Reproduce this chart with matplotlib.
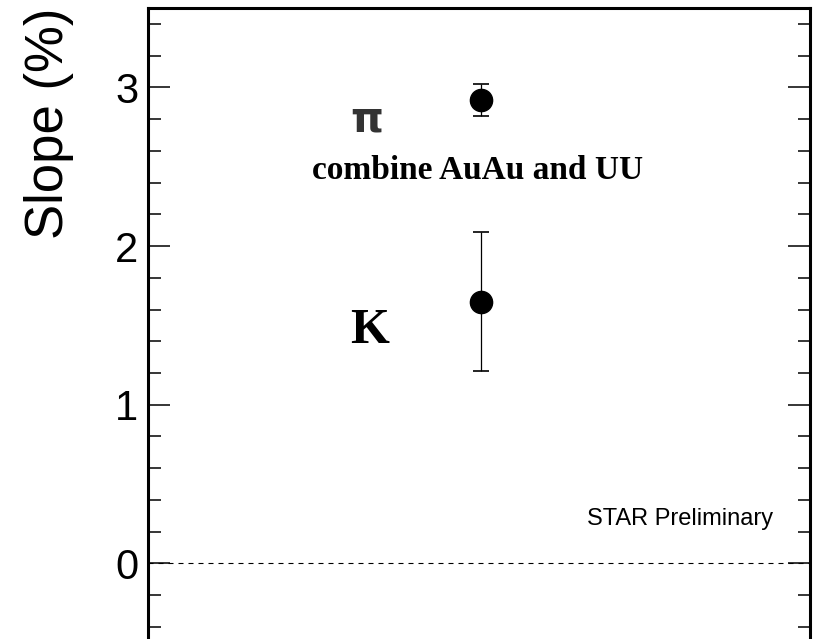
import matplotlib
matplotlib.use("Agg")
import matplotlib.pyplot as plt
from matplotlib.ticker import MultipleLocator

# Data
particles = ["π", "K"]
x_pos = [0.503, 0.503]
slope = [2.92, 1.65]
slope_err = [0.10, 0.44]
y_ticks = [0, 1, 2, 3]

fig = plt.figure(figsize=(8.16, 6.39), dpi=100)
ax = fig.add_axes([148/816, 1 - 642.8/639, 662/816, 634.8/639])
ax.set_xlim(0, 1)
ax.set_ylim(-0.5, 3.5)

ax.axhline(0, color="black", lw=0.8, ls=(0, (4.5, 4.5)), zorder=1)

ax.errorbar(x_pos, slope, yerr=slope_err, fmt="o", color="black",
            markersize=16, elinewidth=0.9, capsize=6, capthick=1.2, zorder=3)

ax.set_yticks(y_ticks)
ax.yaxis.set_minor_locator(MultipleLocator(0.2))
ax.tick_params(axis="y", which="major", direction="in", length=16, width=1.1,
               labelsize=30, pad=7, right=True, left=True)
ax.tick_params(axis="y", which="minor", direction="in", length=9, width=1.1,
               right=True, left=True)
for lab in ax.get_yticklabels():
    lab.set_fontfamily("Liberation Sans")
ax.set_xticks([])
for s in ax.spines.values():
    s.set_linewidth(2.2)

fig.text(49/816, 1 - 8/639, "Slope (%)", rotation=90, ha="center", va="top",
         fontsize=38, family="Liberation Sans")

ax.text(0.305, 2.72, particles[0], fontsize=30, fontweight="bold",
        family="DejaVu Sans", color="#333333", ha="left", va="baseline")
ax.text(0.2477, 2.42, "combine AuAu and UU", fontsize=24, fontweight="bold",
        family="Liberation Serif", ha="left", va="baseline")
ax.text(0.305, 1.386, particles[1], fontsize=36, fontweight="bold",
        family="Liberation Serif", ha="left", va="baseline")
ax.text(0.944, 0.24, "STAR Preliminary", fontsize=17, family="Liberation Sans",
        ha="right", va="baseline")

fig.savefig("out.png", dpi=100)
